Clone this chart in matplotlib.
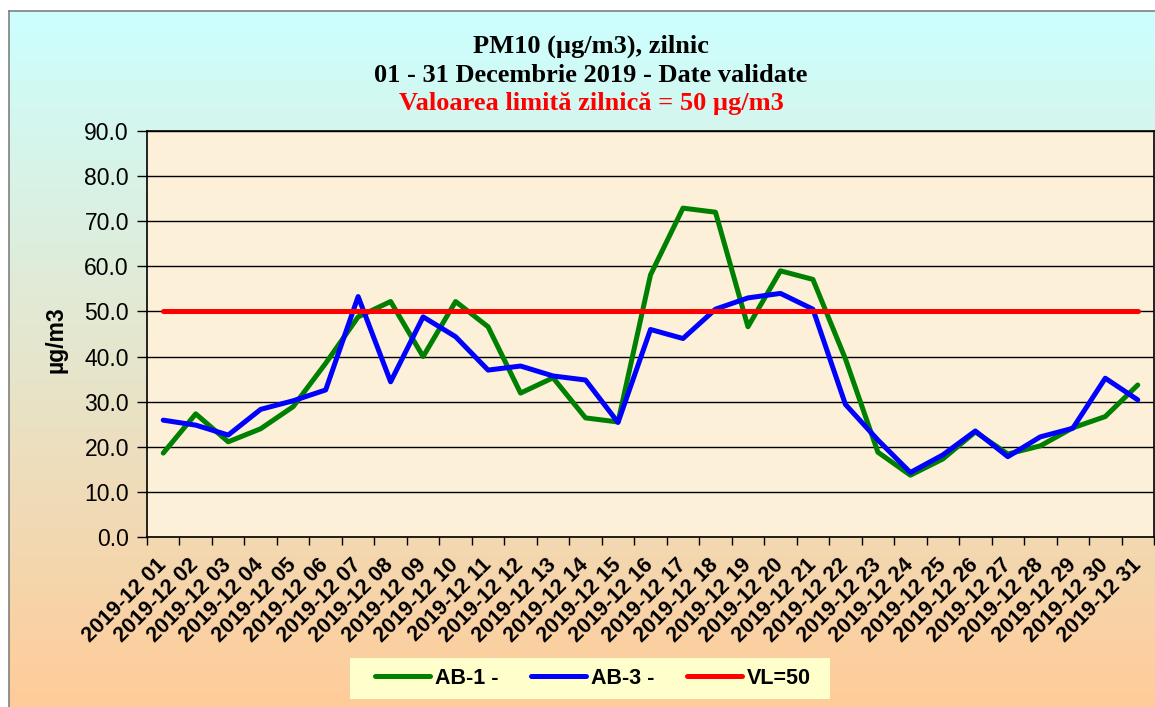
import numpy as np
import matplotlib
matplotlib.use('Agg')
import matplotlib.pyplot as plt
from matplotlib.colors import LinearSegmentedColormap
from matplotlib.patches import Rectangle

# valori (ug/m3)
zile = ['2019-12 %02d' % d for d in range(1, 32)]
ab1 = [18.6, 27.3, 21.1, 24.0, 28.9, 38.5, 48.8, 52.2, 40.0, 52.2,
       46.6, 31.9, 35.3, 26.4, 25.5, 58.1, 72.9, 72.0, 46.6, 59.0,
       57.1, 39.5, 18.8, 13.7, 17.3, 23.3, 18.4, 20.2, 24.2, 26.7, 33.7]
ab3 = [25.9, 24.8, 22.6, 28.3, 30.2, 32.6, 53.3, 34.4, 48.8, 44.4,
       37.0, 37.9, 35.7, 34.8, 25.4, 46.0, 44.0, 50.5, 53.0, 54.0,
       50.5, 29.4, 21.5, 14.3, 18.2, 23.5, 17.8, 22.2, 24.1, 35.2, 30.4]
valoare_limita = 50
yticks = [0, 10, 20, 30, 40, 50, 60, 70, 80, 90]

W, H = 1155, 707
fig = plt.figure(figsize=(W / 100, H / 100), dpi=100)
fig.patch.set_facecolor('white')

# fundal cu gradient (cyan sus, piersica jos)
bg = fig.add_axes([9 / W, 0, 1 - 9 / W, 1 - 11 / H])
cmap = LinearSegmentedColormap.from_list('bg', ['#CCFFFF', '#FFCC99'])
bg.imshow(np.linspace(0, 1, 256).reshape(-1, 1), cmap=cmap, aspect='auto',
          extent=[0, 1, 0, 1], origin='upper')
bg.set_xticks([])
bg.set_yticks([])
for side in ['left', 'top']:
    bg.spines[side].set_color('#808080')
    bg.spines[side].set_linewidth(1.2)
for side in ['right', 'bottom']:
    bg.spines[side].set_visible(False)

left, right, top, bottom = 147, 1154, 131, 537
ax = fig.add_axes([left / W, 1 - bottom / H, (right - left) / W, (bottom - top) / H])
ax.set_facecolor('#FCF0D9')

x = np.arange(len(zile))
ax.plot(x, ab1, color='#008000', lw=3.6, label='AB-1 -', solid_capstyle='round', zorder=3)
ax.plot(x, ab3, color='#0000FF', lw=3.6, label='AB-3 -', solid_capstyle='round', zorder=4)
ax.plot(x, [valoare_limita] * len(zile), color='#FF0000', lw=3.6, label='VL=50',
        solid_capstyle='round', zorder=5)

ax.set_xlim(-0.5, len(zile) - 0.5)
ax.set_ylim(0, 90)
ax.set_yticks(yticks)
ax.set_yticklabels(['%.1f' % v for v in yticks], fontsize=16.5, family='Liberation Sans')
ax.yaxis.grid(True, color='black', lw=1)
ax.set_axisbelow(True)

ax.set_xticks(np.arange(-0.5, len(zile), 1.0))
ax.set_xticklabels([])
ax.set_xticks(x, minor=True)
ax.set_xticklabels(zile, minor=True, rotation=45, ha='right', va='center',
                   rotation_mode='anchor', fontsize=15.5, fontweight='bold',
                   family='Liberation Sans')
ax.tick_params(axis='x', which='minor', length=0, pad=18)
ax.tick_params(axis='x', which='major', length=6, width=1, direction='out')
ax.tick_params(axis='y', length=7, width=1, direction='out', pad=6)
for s in ax.spines.values():
    s.set_color('black')
    s.set_linewidth(1.2)

fig.text(56 / W, 1 - 340 / H, 'µg/m3', rotation=90, ha='center', va='center',
         fontsize=16.5, fontweight='bold', family='Liberation Sans')

titlu_x = 591 / W
fig.text(titlu_x, 1 - 52.3 / H, 'PM10 (µg/m3), zilnic', ha='center', va='baseline',
         fontsize=19, fontweight='bold', family='Liberation Serif')
fig.text(titlu_x, 1 - 82.3 / H, '01 - 31 Decembrie 2019 - Date validate', ha='center',
         va='baseline', fontsize=19, fontweight='bold', family='Liberation Serif')
fig.text(titlu_x, 1 - 110 / H, 'Valoarea limită zilnică = 50 µg/m3', ha='center',
         va='baseline', fontsize=19, fontweight='bold', family='Liberation Serif',
         color='#FF0000')

# caseta legendei
fig.patches.append(Rectangle((350 / W, 1 - 699 / H), 480 / W, 41 / H,
                             transform=fig.transFigure, facecolor='#FFFFCC',
                             edgecolor='none', zorder=1))
leg = fig.legend(loc='center', bbox_to_anchor=(593 / W, 1 - 678.5 / H), ncol=3,
                 frameon=False, handlelength=2.55, columnspacing=1.5, handletextpad=0.25,
                 prop={'family': 'Liberation Sans', 'weight': 'bold', 'size': 15.5})

fig.savefig('out.png', dpi=100)
